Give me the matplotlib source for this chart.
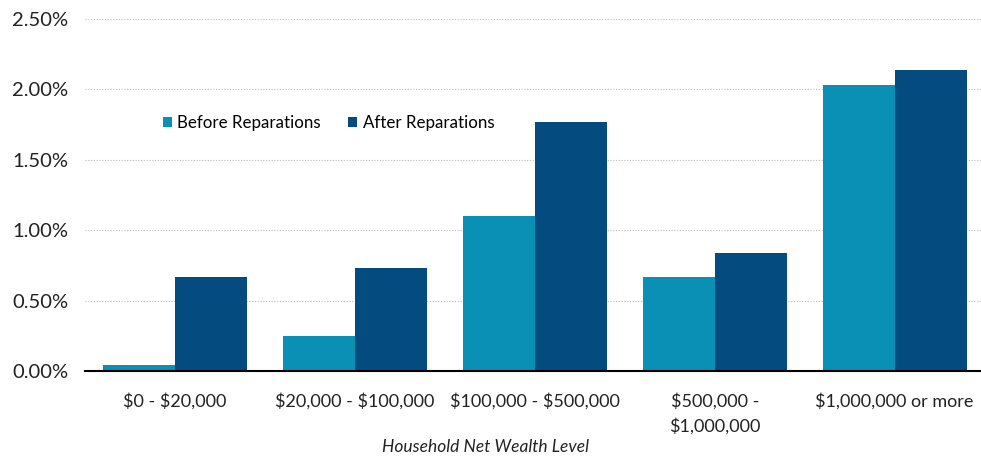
import matplotlib.pyplot as plt
import numpy as np
from matplotlib.ticker import PercentFormatter

categories = ['$0 - $20,000', '$20,000 - $100,000', '$100,000 - $500,000',
              '$500,000 -\n$1,000,000', '$1,000,000 or more']
before = [0.04, 0.25, 1.10, 0.67, 2.03]
after = [0.67, 0.73, 1.77, 0.84, 2.14]
yticks = [0.0, 0.5, 1.0, 1.5, 2.0, 2.5]

plt.rcParams['font.family'] = ['Lato', 'DejaVu Sans']
plt.rcParams['text.parse_math'] = False

fig = plt.figure(figsize=(9.81, 4.58), dpi=100)
ax = fig.add_axes([85 / 981, 1 - 371 / 458, (981 - 85) / 981, (371 - 19) / 458])

x = np.arange(len(categories))
w = 0.4
ax.bar(x - w / 2, before, w, color='#0A8FB5', label='Before Reparations', zorder=2)
ax.bar(x + w / 2, after, w, color='#044C7F', label='After Reparations', zorder=2)

ax.set_xlim(-0.5, 4.48)
ax.set_ylim(0, 2.5)
ax.set_yticks(yticks)
ax.yaxis.set_major_formatter(PercentFormatter(decimals=2))
ax.set_xticks(x)
ax.set_xticklabels(categories, va='top', linespacing=1.55)
ax.tick_params(axis='both', length=0, labelsize=14.5, colors='#222222')
ax.tick_params(axis='x', pad=16, labelsize=13)
ax.tick_params(axis='y', pad=12)

ax.grid(axis='y', color='#BBBBBB', linestyle=(0, (1, 1.5)), linewidth=0.8, zorder=0)
for s in ['top', 'right', 'left']:
    ax.spines[s].set_visible(False)
ax.spines['bottom'].set_color('black')
ax.spines['bottom'].set_linewidth(1.5)
ax.spines['bottom'].set_zorder(3)

ax.legend(loc='upper left', bbox_to_anchor=(0.07, 0.77), ncol=2, frameon=False,
          fontsize=12.2, handlelength=0.55, handleheight=0.55, handletextpad=0.3,
          columnspacing=1.6)

fig.text(485 / 981, 1 - 447 / 458, 'Household Net Wealth Level', ha='center', va='center',
         fontsize=12.5, style='italic', color='#222222')

fig.savefig('out.png', dpi=100)
